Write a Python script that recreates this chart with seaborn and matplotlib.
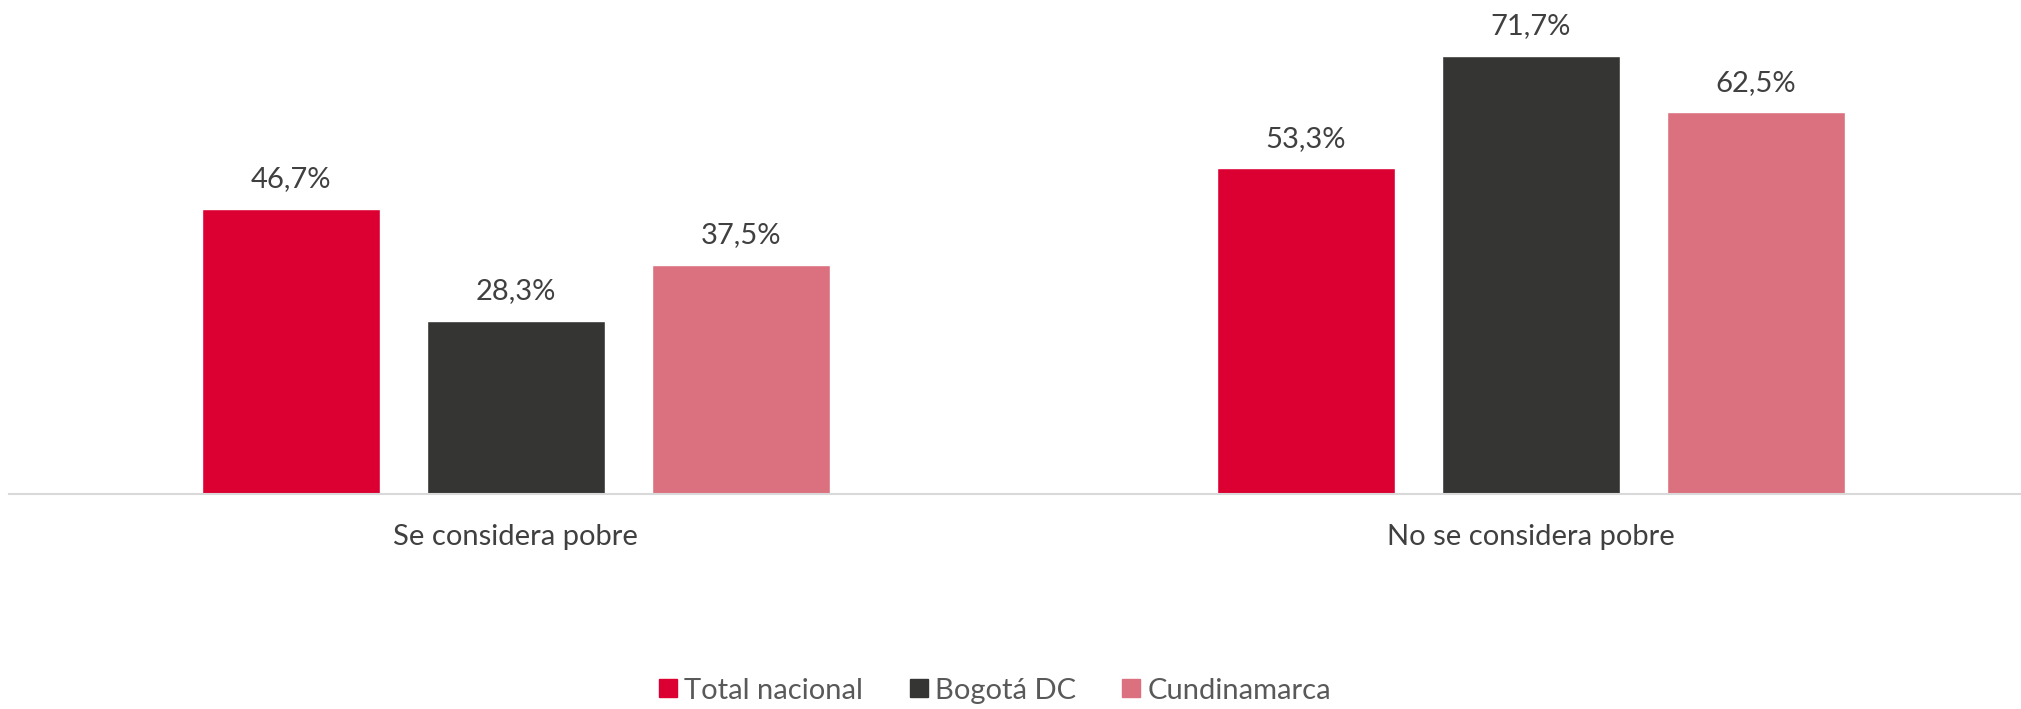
import numpy as np
import pandas as pd
import matplotlib
matplotlib.use("Agg")
import matplotlib.pyplot as plt
import seaborn as sns

# datos
categorias = ["Se considera pobre", "No se considera pobre"]
series = ["Total nacional", "Bogotá DC", "Cundinamarca"]
total_nacional = [46.7, 53.3]
bogota = [28.3, 71.7]
cundinamarca = [37.5, 62.5]
colores = ["#DC0032", "#353533", "#DB717E"]

df = pd.DataFrame({
    "categoria": categorias * 3,
    "serie": [s for s in series for _ in categorias],
    "valor": total_nacional + bogota + cundinamarca,
})

sns.set_style("white")
plt.rcParams["font.family"] = ["Lato", "DejaVu Sans"]

fig = plt.figure(figsize=(20.21, 7.09), dpi=100)
ax = fig.add_axes([9 / 2021, 0.3037, 1 - 9 / 2021, 0.6963])

sns.barplot(data=df, x="categoria", y="valor", hue="serie", order=categorias,
            hue_order=series, palette=colores, width=0.665, gap=0.209,
            saturation=1, legend=False, ax=ax)

for cont in ax.containers:
    etiquetas = [f"{v:.1f}%".replace(".", ",") for v in cont.datavalues]
    ax.bar_label(cont, labels=etiquetas, padding=12, fontsize=21, color="#404040")

ax.set_xlim(-0.499, 1.483)
ax.set_ylim(0, 80.9)
ax.set_xlabel("")
ax.set_ylabel("")
ax.set_yticks([])
for lado in ["top", "right", "left"]:
    ax.spines[lado].set_visible(False)
ax.spines["bottom"].set_color("#D9D9D9")
ax.spines["bottom"].set_linewidth(1.5)
ax.tick_params(axis="x", length=0, pad=22, labelsize=21, labelcolor="#404040")

handles = [plt.Line2D([], [], marker="s", linestyle="", markersize=13, color=c)
           for c in colores]
fig.legend(handles, series, loc="center", bbox_to_anchor=(0.491, 0.026),
           ncol=3, frameon=False, fontsize=21, labelcolor="#595959",
           handletextpad=0.05, columnspacing=1.4, handlelength=1.0)

fig.savefig("out.png", dpi=100)
